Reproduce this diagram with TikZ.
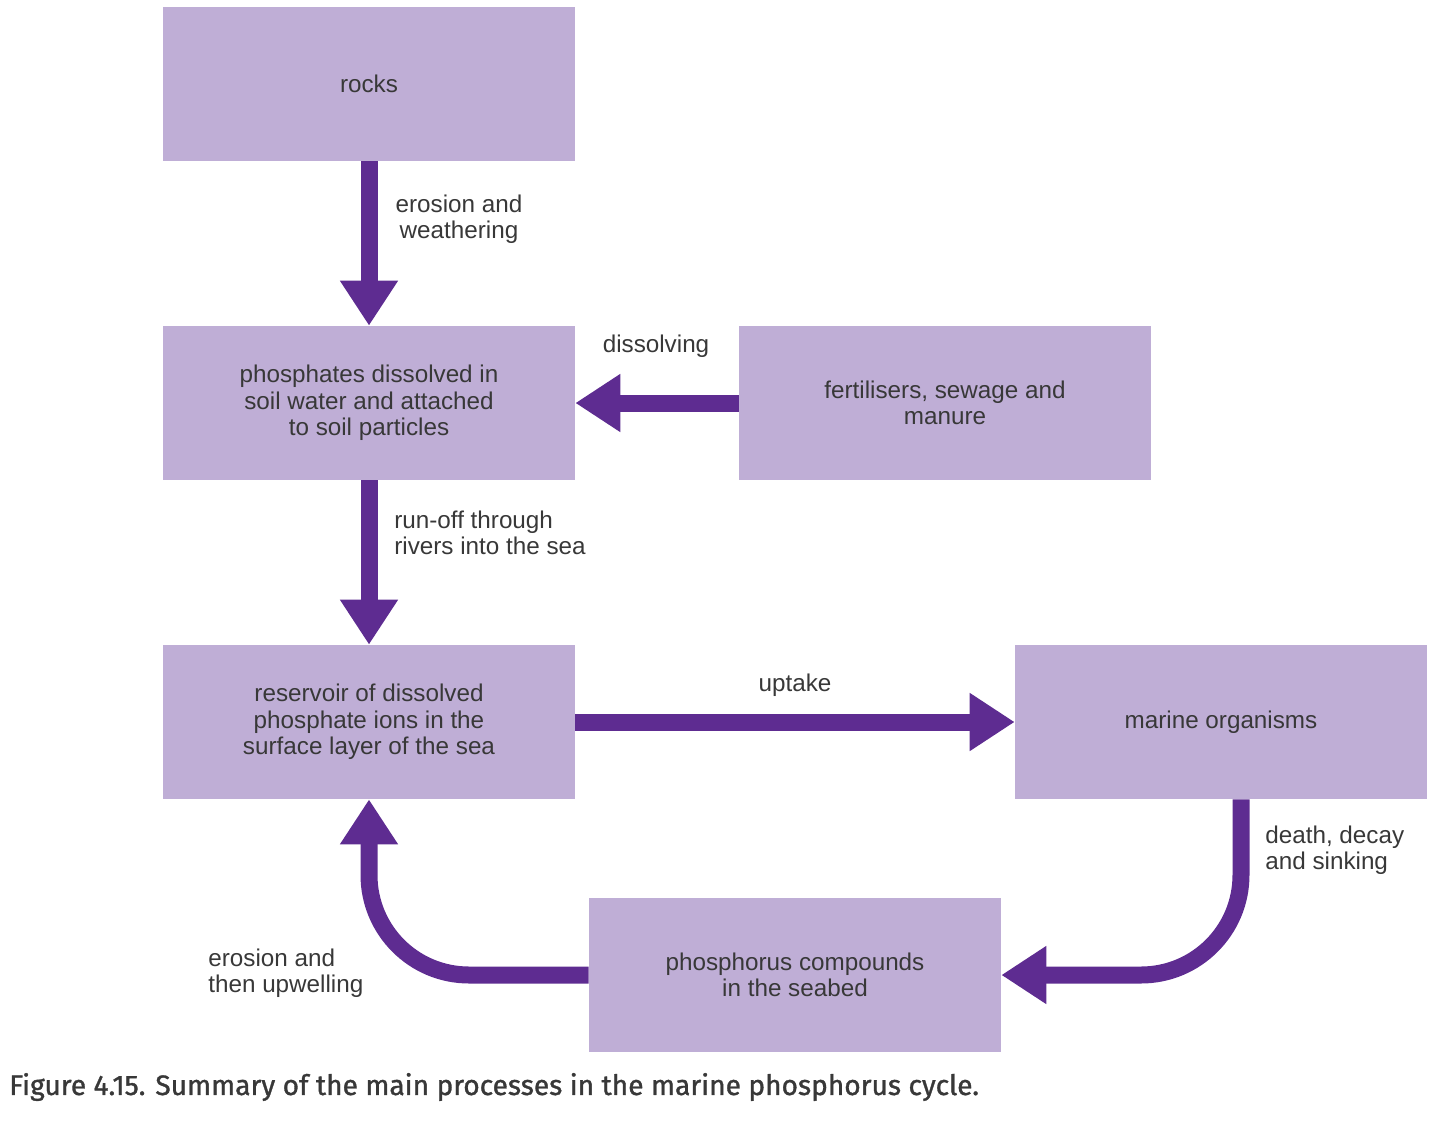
\documentclass[tikz,border=0pt]{standalone}
\usepackage{fontspec}
\usepackage{tikz}
\usetikzlibrary{arrows.meta}
\newfontfamily\boxfont{Liberation Sans}
\newfontfamily\capfont[FakeBold=1.2]{Fira Sans}
\definecolor{lilac}{HTML}{BFAED6}
\definecolor{grape}{HTML}{5E2C91}
\definecolor{ink}{HTML}{383838}
\tikzset{
	pbox/.style={fill=lilac, minimum width=8.24cm, minimum height=3.08cm, inner sep=0pt,
		align=center, text=ink, font=\boxfont\fontsize{13.8}{15}\selectfont},
	lbl/.style={text=ink, inner sep=0pt, font=\boxfont\fontsize{13.8}{15}\selectfont},
	arr/.style={grape, line width=0.34cm, -{Triangle[width=1.1cm, length=0.9cm]}},
}

\begin{document}
\begin{tikzpicture}[x=0.02cm, y=-0.02cm]
	\useasboundingbox (0,0) rectangle (1440,1123);

	\node[pbox] (rocks) at (369,84) {rocks};
	\node[pbox] (soil) at (369,403) {phosphates dissolved in\\soil water and attached\\to soil particles};
	\node[pbox] (fert) at (945,403) {fertilisers, sewage and\\manure};
	\node[pbox] (sea) at (369,722) {reservoir of dissolved\\phosphate ions in the\\surface layer of the sea};
	\node[pbox] (org) at (1221,722) {marine organisms};
	\node[pbox] (bed) at (795,975) {phosphorus compounds\\in the seabed};

	\draw[arr] (rocks) -- (soil);
	\draw[arr] (fert) -- (soil);
	\draw[arr] (soil) -- (sea);
	\draw[arr] (sea) -- (org);
	\draw[arr, rounded corners=2cm] ([xshift=0.4cm]org.south) |- (bed.east);
	\draw[arr, rounded corners=2cm] (bed.west) -| (sea.south);

	\node[lbl, align=center] (l1) at (459,219) {erosion and\\weathering};
	\node[lbl] (l2) at (656,346) {dissolving};
	\node[lbl, align=left, anchor=west] (l3) at (394,533) {run-off through\\rivers into the sea};
	\node[lbl] (l4) at (795,685) {uptake};
	\node[lbl, align=left, anchor=west] (l5) at (1265,850) {death, decay\\and sinking};
	\node[lbl, align=left, anchor=west] (l6) at (208,973) {erosion and\\then upwelling};

	\node[anchor=west, inner sep=0pt, text=ink, font=\capfont\fontsize{16}{19}\selectfont] (cap) at (9,1087)
		{Figure 4.15. Summary of the main processes in the marine phosphorus cycle.};
\end{tikzpicture}
\end{document}
